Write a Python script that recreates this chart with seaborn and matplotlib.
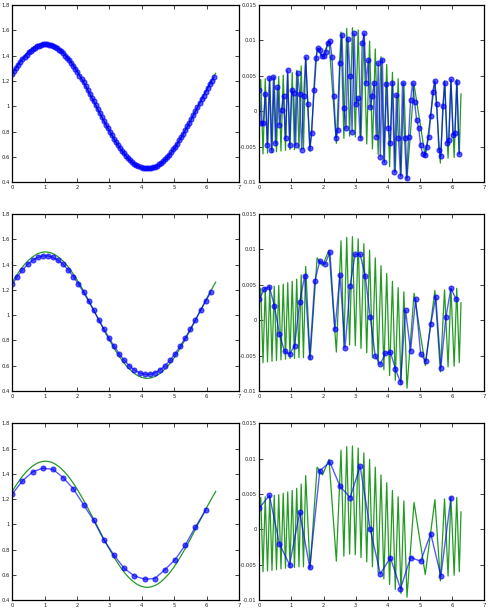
import numpy as np
import matplotlib
matplotlib.use('Agg')
import matplotlib.pyplot as plt
import seaborn as sns
from matplotlib.ticker import MultipleLocator, FuncFormatter

sns.set_style('ticks')
plt.rcParams['font.family'] = ['DejaVu Sans']

# ---- data ----
# smooth signal (left column, green)
signal_y = [1.261, 1.303, 1.341, 1.376, 1.407, 1.434, 1.456, 1.474, 1.488, 1.496,
            1.500, 1.498, 1.492, 1.481, 1.464, 1.444, 1.418, 1.389, 1.356, 1.319,
            1.279, 1.236, 1.191, 1.144, 1.095, 1.046, 0.996, 0.946, 0.897, 0.848,
            0.802, 0.757, 0.714, 0.675, 0.638, 0.605, 0.577, 0.553, 0.533, 0.517,
            0.507, 0.501, 0.500, 0.505, 0.514, 0.528, 0.547, 0.571, 0.598, 0.629,
            0.664, 0.704, 0.746, 0.790, 0.836, 0.884, 0.934, 0.983, 1.033, 1.083,
            1.132, 1.179, 1.225, 1.262]
signal_x = np.append(np.arange(63) * 0.1, 2 * np.pi)

# residual (right column, green): turning points of the fast oscillation
resid_x = [0.0, 0.045, 0.115, 0.185, 0.255, 0.325, 0.395, 0.465, 0.535, 0.605,
           0.675, 0.745, 0.815, 0.885, 0.955, 1.025, 1.095, 1.165, 1.235, 1.305,
           1.375, 1.445, 1.58, 1.80, 1.97, 2.17, 2.40, 2.545, 2.634, 2.723,
           2.812, 2.901, 2.990, 3.079, 3.168, 3.257, 3.346, 3.435, 3.524, 3.613,
           3.702, 3.791, 3.880, 3.969, 4.058, 4.147, 4.236, 4.325, 4.414, 4.503,
           4.600, 4.82, 5.17, 5.47, 5.64, 5.77, 5.88, 5.97, 6.07, 6.15,
           6.23, 6.283]
resid_y = [0.0030, 0.0045, -0.0060, 0.0046, -0.0059, 0.0047, -0.0058, 0.0048, -0.0057, 0.0049,
           -0.0056, 0.0051, -0.0055, 0.0053, -0.0054, 0.0055, -0.0054, 0.0058, -0.0053, 0.0064,
           -0.0053, 0.0076, -0.0056, 0.0088, 0.0077, 0.0099, -0.0045, 0.0112, -0.0038, 0.0117,
           -0.0035, 0.0118, -0.0036, 0.0115, -0.0040, 0.0108, -0.0046, 0.0099, -0.0053, 0.0088,
           -0.0061, 0.0077, -0.0070, 0.0066, -0.0078, 0.0055, -0.0085, 0.0046, -0.0091, 0.0040,
           -0.0096, 0.0038, -0.0064, 0.0042, -0.0073, 0.0043, -0.0066, 0.0045, -0.0065, 0.0045,
           -0.0060, 0.0025]

# decimated signal, 100 / 40 / 20 samples
dec_left_1 = [1.256, 1.282, 1.306, 1.330, 1.352, 1.372, 1.392, 1.409, 1.426, 1.440,
              1.453, 1.464, 1.473, 1.480, 1.485, 1.489, 1.490, 1.490, 1.487, 1.483,
              1.476, 1.468, 1.458, 1.446, 1.433, 1.418, 1.401, 1.382, 1.363, 1.341,
              1.318, 1.294, 1.269, 1.243, 1.216, 1.188, 1.159, 1.129, 1.099, 1.069,
              1.038, 1.008, 0.977, 0.946, 0.916, 0.886, 0.856, 0.827, 0.798, 0.771,
              0.744, 0.718, 0.694, 0.670, 0.648, 0.628, 0.608, 0.591, 0.574, 0.560,
              0.547, 0.536, 0.527, 0.520, 0.515, 0.511, 0.510, 0.510, 0.513, 0.517,
              0.524, 0.532, 0.542, 0.554, 0.567, 0.582, 0.599, 0.618, 0.637, 0.659,
              0.682, 0.706, 0.731, 0.757, 0.784, 0.812, 0.841, 0.871, 0.901, 0.931,
              0.962, 0.992, 1.023, 1.054, 1.084, 1.114, 1.144, 1.173, 1.202, 1.229]
dec_left_2 = [1.245, 1.305, 1.357, 1.401, 1.434, 1.457, 1.469, 1.469, 1.457, 1.434,
              1.401, 1.357, 1.305, 1.245, 1.180, 1.110, 1.037, 0.963, 0.890, 0.820,
              0.755, 0.695, 0.643, 0.599, 0.566, 0.543, 0.531, 0.531, 0.543, 0.566,
              0.599, 0.643, 0.695, 0.755, 0.820, 0.890, 0.963, 1.037, 1.110, 1.180]
dec_left_3 = [1.240, 1.345, 1.415, 1.445, 1.435, 1.370, 1.280, 1.155, 1.030, 0.875,
              0.755, 0.650, 0.590, 0.565, 0.570, 0.640, 0.720, 0.835, 0.980, 1.110]

dec_right_1 = [0.0030, -0.0017, -0.0017, 0.0025, -0.0047, 0.0047, -0.0055, 0.0049, -0.0045, 0.0034,
               -0.0019, 0.0002, 0.0022, -0.0038, 0.0058, -0.0047, 0.0030, 0.0026, -0.0048, 0.0054,
               0.0025, -0.0054, 0.0022, 0.0076, 0.0010, -0.0051, -0.0031, 0.0030, 0.0075, 0.0089,
               0.0086, 0.0078, 0.0078, 0.0084, 0.0097, 0.0099, 0.0077, 0.0021, -0.0037, -0.0026,
               0.0068, 0.0108, 0.0005, -0.0024, 0.0102, 0.0050, -0.0029, 0.0110, 0.0011, 0.0019,
               -0.0037, 0.0096, 0.0110, 0.0040, 0.0072, 0.0006, 0.0022, 0.0040, -0.0036, 0.0068,
               -0.0064, 0.0073, -0.0072, 0.0039, -0.0023, -0.0045, 0.0040, -0.0086, 0.0023, -0.0038,
               -0.0091, 0.0040, -0.0038, -0.0094, -0.0036, 0.0016, 0.0040, 0.0013, -0.0012, -0.0023,
               -0.0048, -0.0060, -0.0062, -0.0050, -0.0036, -0.0007, 0.0028, 0.0043, 0.0010, -0.0054,
               -0.0063, 0.0008, 0.0040, -0.0044, -0.0041, 0.0045, -0.0033, -0.0030, 0.0042, -0.0060]
dec_right_2 = [0.0030, 0.0044, 0.0047, 0.0020, -0.0020, -0.0044, -0.0048, -0.0036, 0.0025, 0.0063,
               -0.0052, 0.0055, 0.0084, 0.0079, 0.0096, -0.0013, 0.0064, -0.0039, 0.0048, 0.0093,
               0.0093, 0.0063, 0.0004, -0.0051, -0.0062, -0.0047, -0.0045, -0.0069, -0.0088, 0.0014,
               -0.0043, 0.0030, -0.0048, -0.0058, -0.0006, 0.0033, -0.0067, 0.0004, 0.0045, 0.0030]
dec_right_3 = [0.0030, 0.0048, -0.0021, -0.0050, 0.0024, -0.0054, 0.0083, 0.0095, 0.0061, 0.0045,
               0.0089, 0.0000, -0.0063, -0.0040, -0.0084, -0.0040, -0.0045, -0.0006, -0.0066, 0.0045]

rows = [(dec_left_1, dec_right_1), (dec_left_2, dec_right_2), (dec_left_3, dec_right_3)]

# ---- figure ----
fig = plt.figure(figsize=(4.89, 6.09), dpi=100)
col_x = [(0.0252, 0.4636), (0.5303, 0.4595)]
row_y = [(0.7007, 0.2911), (0.3580, 0.2906), (0.0148, 0.2901)]

fmt = FuncFormatter(lambda v, pos: '%g' % round(v, 6))


def style(ax, left):
    ax.set_xlim(0, 7)
    ax.xaxis.set_major_locator(MultipleLocator(1))
    if left:
        ax.set_ylim(0.4, 1.8)
        ax.yaxis.set_major_locator(MultipleLocator(0.2))
    else:
        ax.set_ylim(-0.01, 0.015)
        ax.yaxis.set_major_locator(MultipleLocator(0.005))
    ax.xaxis.set_major_formatter(fmt)
    ax.yaxis.set_major_formatter(fmt)
    ax.tick_params(direction='in', top=True, right=True, labelsize=3.8,
                   length=3, width=0.6, pad=2, colors='#222222')
    for s in ax.spines.values():
        s.set_linewidth(0.9)
        s.set_color('black')
    ax.set_xlabel('')
    ax.set_ylabel('')


for r, (yl, yr) in enumerate(rows):
    xs = np.arange(len(yl)) * 2 * np.pi / len(yl)
    for c, (gx, gy, by) in enumerate([(signal_x, signal_y, yl), (resid_x, resid_y, yr)]):
        ax = fig.add_axes([col_x[c][0], row_y[r][0], col_x[c][1], row_y[r][1]])
        sns.lineplot(x=np.asarray(gx), y=np.asarray(gy), ax=ax, color='#239b23',
                     lw=0.9, estimator=None, sort=False)
        sns.lineplot(x=xs, y=np.asarray(by), ax=ax, color='#0000ff', alpha=0.65,
                     lw=1.0, marker='o', markersize=3.6, markeredgecolor='#0000ff',
                     markeredgewidth=0.8, estimator=None, sort=False)
        style(ax, c == 0)

fig.savefig('out.png', dpi=100)
